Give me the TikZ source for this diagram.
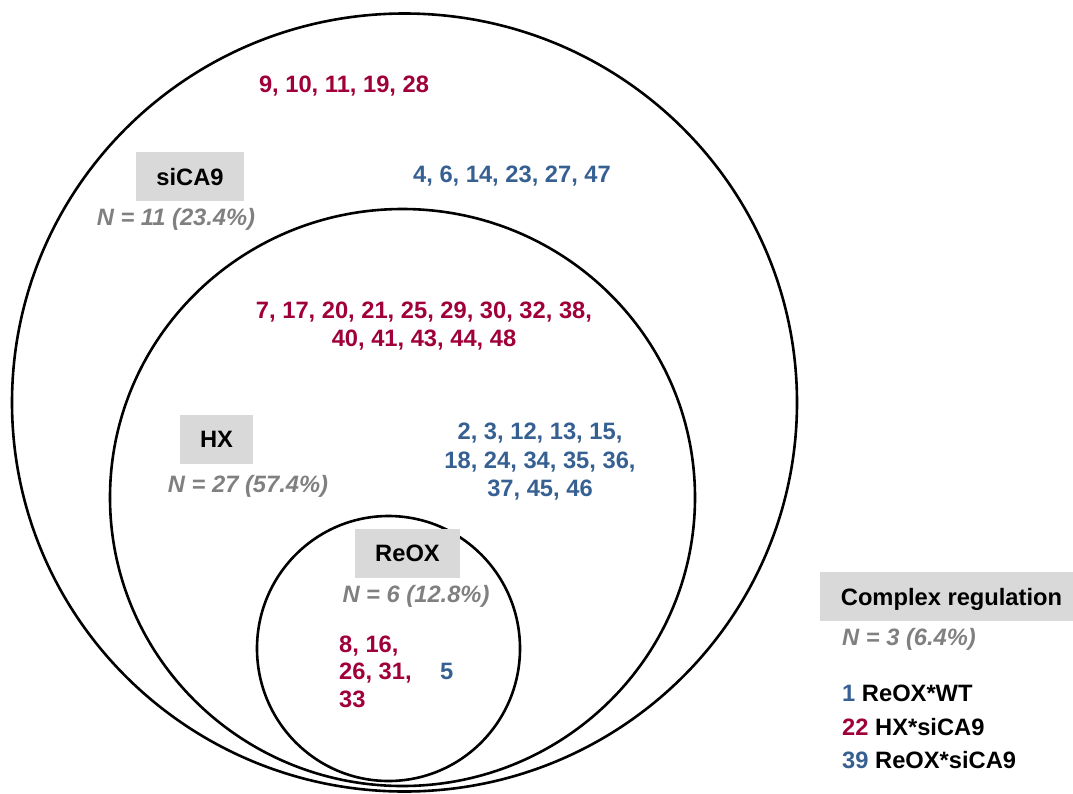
\documentclass[tikz,border=0pt]{standalone}
\usepackage{fontspec}
\setmainfont{Liberation Sans}
\definecolor{vred}{RGB}{160,0,58}
\definecolor{vblue}{RGB}{55,96,146}
\definecolor{vgray}{RGB}{128,128,128}
\definecolor{boxgray}{RGB}{217,217,217}
\begin{document}
\begin{tikzpicture}[x=1pt,y=-1pt,
  ring/.style={draw=black,line width=2.6pt},
  txt/.style={inner sep=0pt,font=\fontsize{23.7}{28}\selectfont\bfseries},
  redtxt/.style={txt,text=vred},
  bluetxt/.style={txt,text=vblue},
  ntxt/.style={txt,text=vgray,font=\fontsize{23.7}{28}\selectfont\bfseries\itshape},
  setbox/.style={txt,fill=boxgray,text=black,text height=17pt,text depth=0pt,inner sep=0pt,minimum height=49pt}
]
\useasboundingbox (0,0) rectangle (1073,793);
% circles
\draw[ring] (404.5,402.5) ellipse [x radius=392.5pt, y radius=389pt];
\draw[ring] (402.5,497.5) ellipse [x radius=292.5pt, y radius=288.5pt];
\draw[ring] (388.5,648.5) ellipse [x radius=131.5pt, y radius=132.5pt];
% siCA9 region
\node[redtxt,anchor=base] (s1) at (344,92) {9, 10, 11, 19, 28};
\node[bluetxt,anchor=base] (s2) at (512,182) {4, 6, 14, 23, 27, 47};
\node[setbox,minimum width=108pt] (sicabox) at (190,176.5) {siCA9};
\node[ntxt,anchor=base] (sican) at (176,225) {N = 11 (23.4\%)};
% HX region
\node[redtxt,anchor=base] (h1a) at (424,318) {7, 17, 20, 21, 25, 29, 30, 32, 38,};
\node[redtxt,anchor=base] (h1b) at (424,346) {40, 41, 43, 44, 48};
\node[setbox,minimum width=73pt] (hxbox) at (216.5,439) {HX};
\node[ntxt,anchor=base] (hxn) at (248,492) {N = 27 (57.4\%)};
\node[bluetxt,anchor=base] (h2a) at (540,439) {2, 3, 12, 13, 15,};
\node[bluetxt,anchor=base] (h2b) at (540,468) {18, 24, 34, 35, 36,};
\node[bluetxt,anchor=base] (h2c) at (540,496) {37, 45, 46};
% ReOX region
\node[setbox,minimum width=105pt] (reoxbox) at (407.5,553) {ReOX};
\node[ntxt,anchor=base] (reoxn) at (416,602) {N = 6 (12.8\%)};
\node[redtxt,anchor=base west] (r1a) at (339,652) {8, 16,};
\node[redtxt,anchor=base west] (r1b) at (339,679) {26, 31,};
\node[redtxt,anchor=base west] (r1c) at (339,707) {33};
\node[bluetxt,anchor=base west] (r2) at (440,679) {5};
% complex regulation
\node[setbox,minimum width=253pt] (cbox) at (946.5,596.5) {};
\node[setbox,fill=none] (ctitle) at (951.5,596.5) {Complex regulation};
\node[ntxt,anchor=base west] (cn) at (842,645) {N = 3 (6.4\%)};
\node[txt,anchor=base west] (c1) at (842,701) {\textcolor{vblue}{1} ReOX*WT};
\node[txt,anchor=base west] (c2) at (842,735) {\textcolor{vred}{22} HX*siCA9};
\node[txt,anchor=base west] (c3) at (842,768) {\textcolor{vblue}{39} ReOX*siCA9};
\end{tikzpicture}
\end{document}
